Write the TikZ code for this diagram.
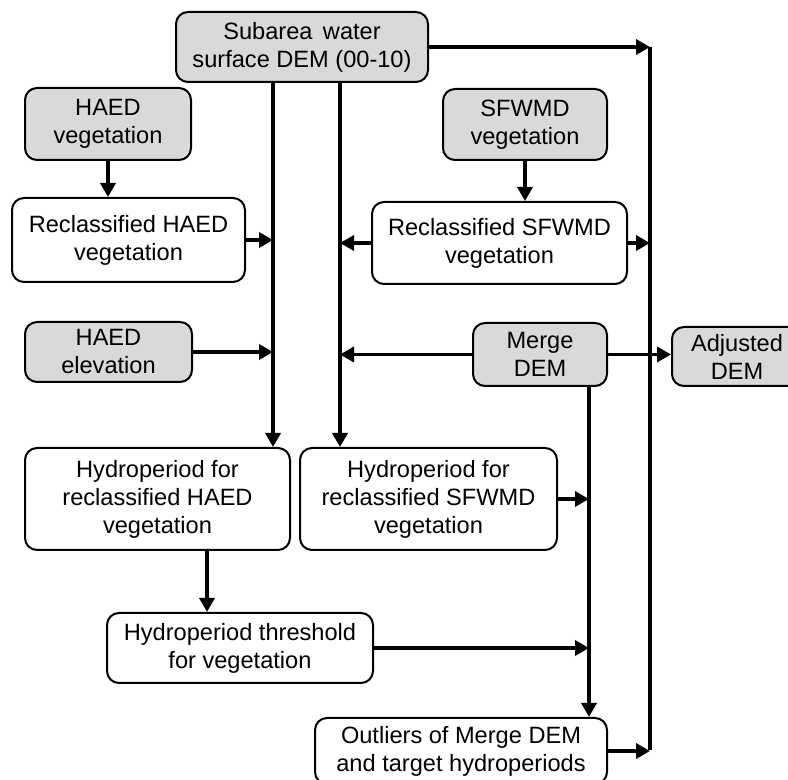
\documentclass[tikz,border=0pt]{standalone}
\usepackage{fontspec}
\setmainfont{Liberation Sans}
\usetikzlibrary{arrows.meta}
\definecolor{boxgray}{RGB}{217,217,217}

\begin{document}
\begin{tikzpicture}[x=0.5pt, y=-0.5pt, >={Triangle[length=7pt,width=7.5pt]},
  main/.style = {draw, line width=1pt, rounded corners=6pt, align=center, inner sep=0pt,
    font=\fontsize{11.8}{14}\selectfont},
  src/.style = {main, fill=boxgray},
  flow/.style = {line width=1.7pt}]
\useasboundingbox (0,0) rectangle (788,780);
\node[src, minimum width=126pt, minimum height=35pt] (sub) at (302,47) {Subarea\, water\\surface DEM (00-10)};
\node[src, minimum width=83pt, minimum height=36pt] (haedveg) at (108,124) {HAED\\vegetation};
\node[main, minimum width=116.5pt, minimum height=42pt] (rechaed) at (128.5,240) {Reclassified HAED\\vegetation};
\node[src, minimum width=83.5pt, minimum height=30pt] (haedelev) at (108.5,352) {HAED\\elevation};
\node[src, minimum width=82pt, minimum height=35.5pt] (sfveg) at (525,124.5) {SFWMD\\vegetation};
\node[main, minimum width=127.5pt, minimum height=41pt] (recsf) at (499.5,243) {Reclassified SFWMD\\vegetation};
\node[src, minimum width=67pt, minimum height=31.5pt] (merge) at (540,354.5) {Merge\\DEM};
\node[src, minimum width=65pt, minimum height=29.5pt] (adj) at (737,356.5) {Adjusted\\DEM};
\node[main, minimum width=132.5pt, minimum height=51pt] (hydhaed) at (157.5,499) {Hydroperiod for\\reclassified HAED\\vegetation};
\node[main, minimum width=128.5pt, minimum height=51pt] (hydsf) at (428.5,499) {Hydroperiod for\\reclassified SFWMD\\vegetation};
\node[main, minimum width=133pt, minimum height=35pt] (thr) at (240,648) {Hydroperiod threshold\\for vegetation};
\node[main, minimum width=146pt, minimum height=33pt] (out) at (461,751) {Outliers of Merge DEM\\and target hydroperiods};
% bus lines
\coordinate (hl) at (273,0);
\coordinate (sl) at (340,0);
\coordinate (ml) at (589,0);
\coordinate (tl) at (207,0);
\coordinate (rtop) at (650,47);
\coordinate (rbot) at (650,750);
\draw[flow, ->] (sub.east) -- (rtop);
\draw[flow, line width=2pt] (rtop) -- (rbot);
\draw[flow, ->] (sub.south -| hl) -- (hydhaed.north -| hl);
\draw[flow, ->] (sub.south -| sl) -- (hydsf.north -| sl);
\draw[flow, ->] (haedveg) -- (haedveg |- rechaed.north);
\draw[flow, ->] (rechaed.east) -- (rechaed -| hl);
\draw[flow, ->] (haedelev.east) -- (haedelev -| hl);
\draw[flow, ->] (sfveg) -- (sfveg |- recsf.north);
\draw[flow, ->] (recsf.west) -- (recsf -| sl);
\draw[flow, ->] (recsf.east) -- (recsf -| rtop);
\draw[flow, ->] (merge.west) -- (merge -| sl);
\draw[flow, ->] (merge.east) -- (merge -| adj.west);
\draw[flow, ->] (merge.south -| ml) -- (out.north -| ml);
\draw[flow, ->] (hydhaed.south -| tl) -- (thr.north -| tl);
\draw[flow, ->] (hydsf.east) -- (hydsf -| ml);
\draw[flow, ->] (thr.east) -- (thr -| ml);
\draw[flow, ->] (out.east) -- (out -| rtop);
\end{tikzpicture}
\end{document}
